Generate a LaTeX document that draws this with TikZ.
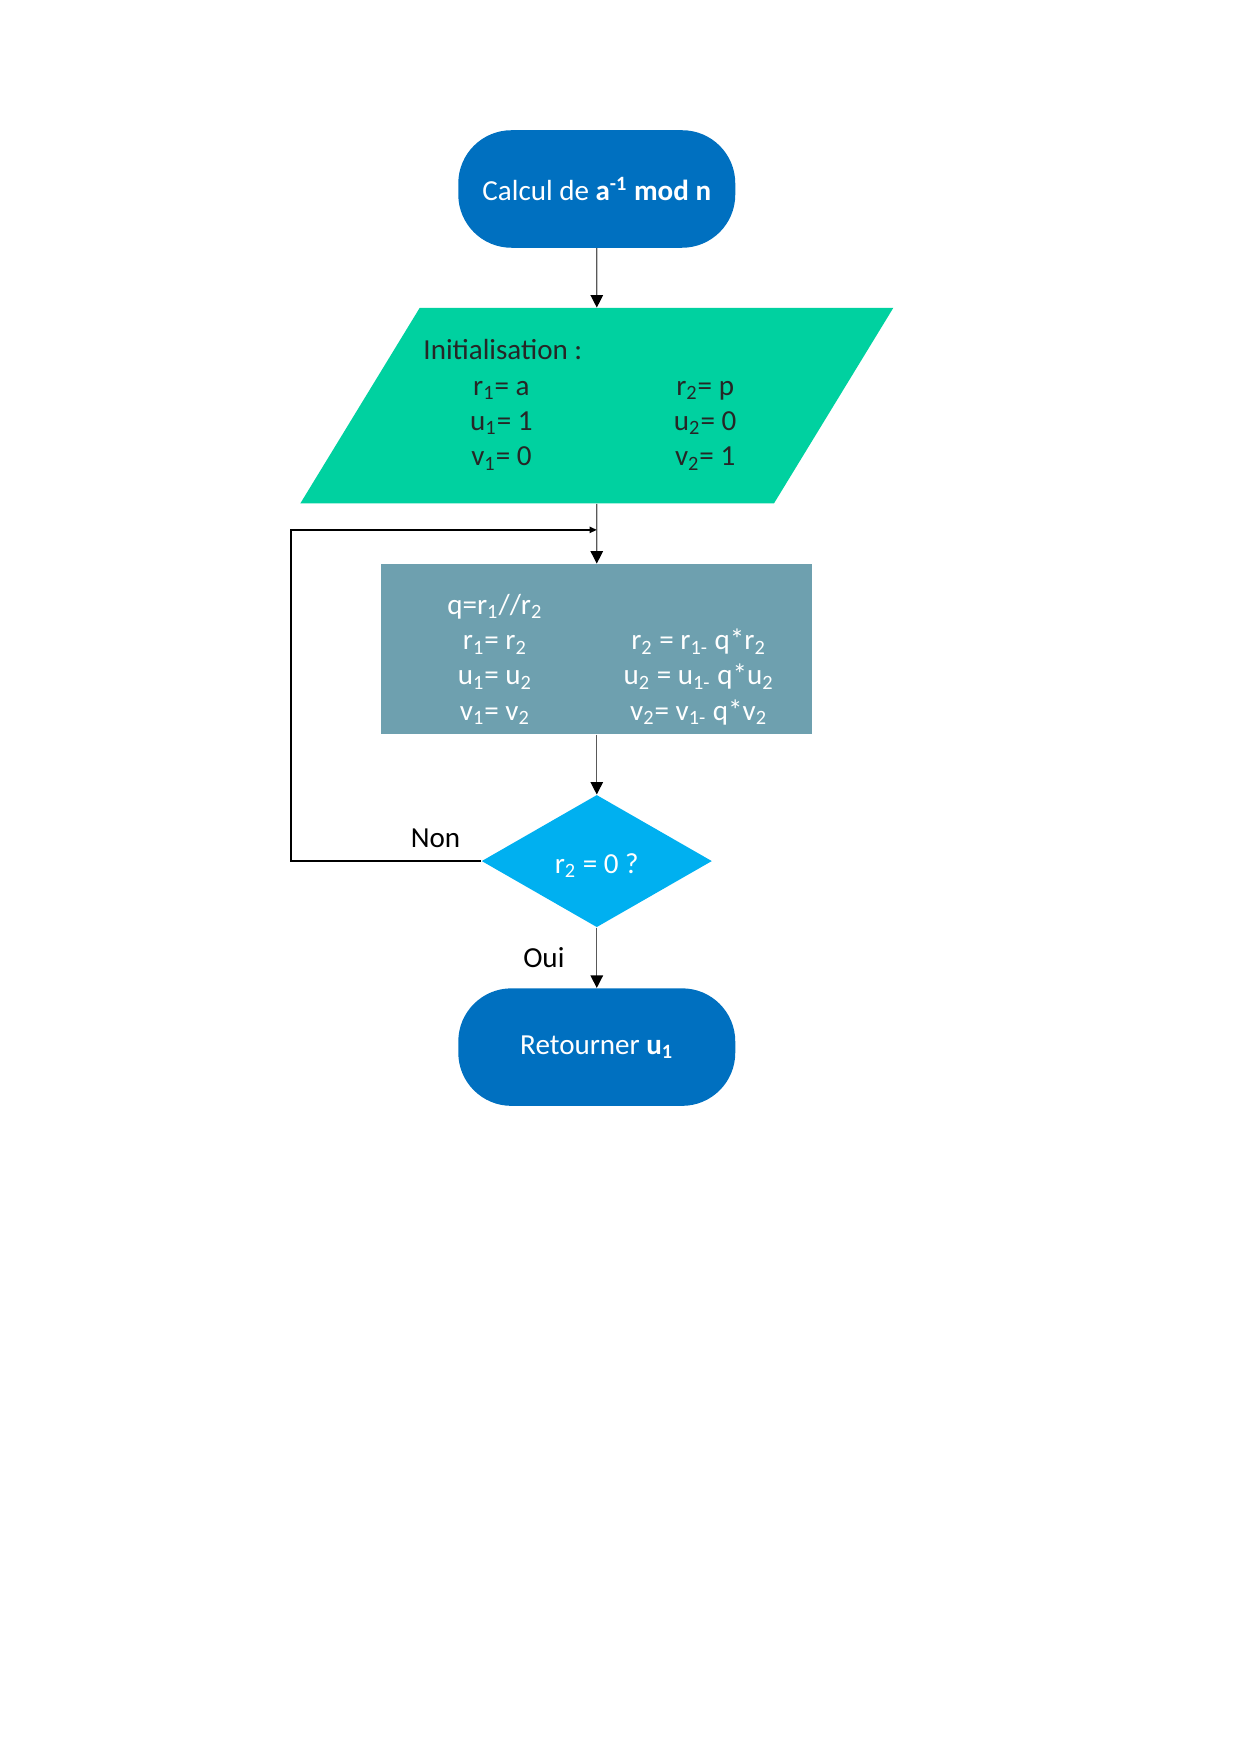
\documentclass[tikz,border=0pt]{standalone}
\usepackage{fontspec}
\setmainfont{Carlito}
\usepackage{array}
\usepackage{tikz}
\usetikzlibrary{shapes.geometric, arrows.meta}
\newcolumntype{C}[1]{>{\centering\arraybackslash}p{#1}}
\definecolor{termblue}{RGB}{0,112,192}
\definecolor{initgreen}{RGB}{0,209,160}
\definecolor{procgrey}{RGB}{110,160,175}
\definecolor{decblue}{RGB}{0,176,240}
\tikzstyle{terminal} = [rectangle, rounded corners=0.9cm, minimum width=4.69cm, minimum height=1.99cm, inner sep=0pt, text centered, fill=termblue, text=white]
\tikzstyle{io} = [trapezium, trapezium left angle=58.6, trapezium right angle=121.4, trapezium stretches body=true, minimum width=10.04cm, minimum height=3.3cm, inner xsep=0pt, inner ysep=0.46cm, fill=initgreen, text=black!85]
\tikzstyle{process} = [rectangle, minimum width=7.3cm, minimum height=2.88cm, inner sep=0pt, fill=procgrey, text=white]
\tikzstyle{decision} = [diamond, minimum width=3.9cm, minimum height=2.24cm, inner sep=0pt, text centered, fill=decblue, text=white]
\tikzstyle{arrow} = [draw=black!65, line width=0.6pt, -{Triangle[width=6pt,length=6pt,color=black,fill=black]}]
\tikzstyle{loopline} = [draw=black, line width=1pt, -{Triangle[width=3pt,length=3.5pt]}]

\begin{document}
\begin{tikzpicture}[node distance=2cm, font=\fontsize{14}{17}\selectfont]
  \useasboundingbox (0,0) rectangle (21,-29.7);

  \node (start) [terminal] at (10.105,-3.2) {Calcul de \textbf{a\textsuperscript{-1} mod n}};
  \node (init) [io, below of=start, yshift=-1.67cm] {%
    \begin{tabular}{@{\hspace{0.22cm}}C{2.2cm}@{\hspace{1.25cm}}C{2.2cm}@{}}
      \multicolumn{2}{@{}l@{}}{Initialisation :}\\
      r\textsubscript{1}= a & r\textsubscript{2}= p\\
      u\textsubscript{1}= 1 & u\textsubscript{2}= 0\\
      v\textsubscript{1}= 0 & v\textsubscript{2}= 1
    \end{tabular}};
  \node (proc) [process, below of=init, yshift=-2.12cm] {%
    \raisebox{-0.19cm}[\height][\depth]{%
    \begin{tabular}{@{}C{2.55cm}@{\hspace{0.9cm}}C{2.55cm}@{}}
      q=r\textsubscript{1}//r\textsubscript{2} & \\
      r\textsubscript{1}= r\textsubscript{2} & r\textsubscript{2} = r\textsubscript{1-} q*r\textsubscript{2}\\
      u\textsubscript{1}= u\textsubscript{2} & u\textsubscript{2} = u\textsubscript{1-} q*u\textsubscript{2}\\
      v\textsubscript{1}= v\textsubscript{2} & v\textsubscript{2}= v\textsubscript{1-} q*v\textsubscript{2}
    \end{tabular}}};
  \node (dec) [decision, below of=proc, yshift=-1.59cm] {\raisebox{-0.08cm}[\height][\depth]{r\textsubscript{2} = 0 ?}};
  \node (stop) [terminal, below of=dec, yshift=-1.15cm] {Retourner \textbf{u\textsubscript{1}}};

  \coordinate (join) at ([yshift=-0.44cm]init.south);

  \draw [arrow] (start) -- (init);
  \draw [arrow] (init) -- (proc);
  \draw [arrow] (proc) -- (dec);
  \draw [arrow] (dec) -- node[anchor=east, xshift=-0.42cm] {Oui} (stop);
  \draw [loopline] (dec.west) -- node[pos=0.24, anchor=south, yshift=0.1cm] {Non} ++ (-3.22,0) |- (join);
\end{tikzpicture}
\end{document}
